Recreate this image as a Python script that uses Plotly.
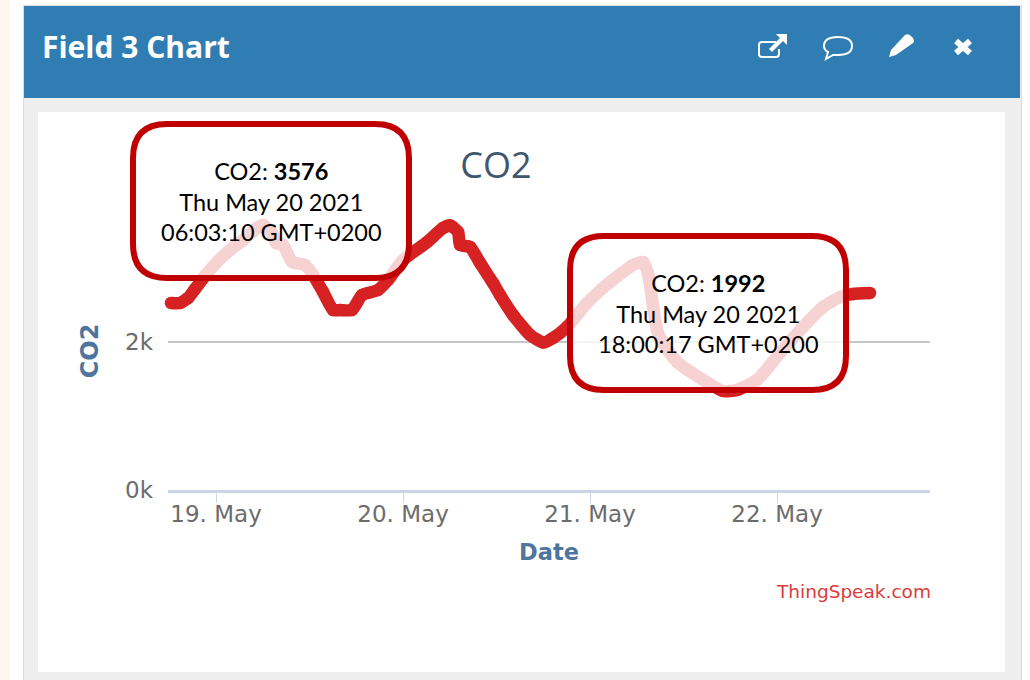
import re
import plotly.graph_objects as go

# ---- data ----
times = [
    "2021-05-18 18:13", "2021-05-18 19:23", "2021-05-18 20:25", "2021-05-18 21:18", "2021-05-18 22:35",
    "2021-05-19 00:08", "2021-05-19 01:48", "2021-05-19 03:28", "2021-05-19 05:16", "2021-05-19 06:02",
    "2021-05-19 07:11", "2021-05-19 07:42", "2021-05-19 08:36", "2021-05-19 09:45", "2021-05-19 11:25",
    "2021-05-19 12:27", "2021-05-19 13:44", "2021-05-19 15:01", "2021-05-19 15:55", "2021-05-19 17:27",
    "2021-05-19 18:44", "2021-05-19 20:47", "2021-05-19 22:04", "2021-05-20 00:00", "2021-05-20 03:05",
    "2021-05-20 05:08", "2021-05-20 06:03", "2021-05-20 07:04", "2021-05-20 07:19", "2021-05-20 08:36",
    "2021-05-20 09:53", "2021-05-20 11:33", "2021-05-20 12:27", "2021-05-20 14:07", "2021-05-20 16:18",
    "2021-05-20 18:00", "2021-05-20 19:15", "2021-05-20 21:03", "2021-05-20 23:37", "2021-05-21 02:34",
    "2021-05-21 05:31", "2021-05-21 06:48", "2021-05-21 07:26", "2021-05-21 07:58", "2021-05-21 08:36",
    "2021-05-21 09:22", "2021-05-21 11:10", "2021-05-21 14:07", "2021-05-21 17:04", "2021-05-21 18:52",
    "2021-05-21 21:26", "2021-05-22 00:23", "2021-05-22 03:20", "2021-05-22 05:54", "2021-05-22 08:05",
    "2021-05-22 09:45", "2021-05-22 11:56",
]
co2 = [
    2527, 2527, 2595, 2716, 2892,
    3081, 3243, 3378, 3541, 3581,
    3473, 3338, 3311, 3081, 3041,
    2905, 2676, 2432, 2432, 2432,
    2635, 2703, 2838, 3108, 3351,
    3541, 3576, 3486, 3311, 3284,
    3068, 2797, 2635, 2365, 2095,
    1992, 2054, 2203, 2527, 2811,
    3041, 3081, 2932, 2568, 2162,
    1986, 1730, 1514, 1338, 1351,
    1486, 1851, 2203, 2473, 2608,
    2649, 2662,
]
x_tick_vals = ["2021-05-19", "2021-05-20", "2021-05-21", "2021-05-22"]
x_tick_text = ["19. May", "20. May", "21. May", "22. May"]
y_tick_vals = [0, 2000]
y_tick_text = ["0k", "2k"]
x_range = ["2021-05-18 17:50", "2021-05-22 19:38"]
y_range = [0, 3757]
callout_1 = "CO2: <b>3576</b><br>Thu May 20 2021<br>06:03:10 GMT+0200"
callout_2 = "CO2: <b>1992</b><br>Thu May 20 2021<br>18:00:17 GMT+0200"

# ---- page geometry (pixels) ----
W, H = 1030, 680
L, R, T, B = 168, 930, 212, 490
PW, PH = R - L, B - T
RED = "#d62222"
DARKRED = "#c00000"
BLUE = "#2f7db2"


def fx(p):
    return (p - L) / PW


def fy(p):
    return (B - p) / PH


def path(s):
    toks = re.findall(r"[A-Za-z]|-?\d+\.?\d*", s)
    out, is_x = [], True
    for t in toks:
        if t.isalpha():
            out.append(t)
        else:
            v = float(t)
            out.append(f"{fx(v) if is_x else fy(v):.5f}")
            is_x = not is_x
    return " ".join(out)


def rect(x0, y0, x1, y1, color, layer="below"):
    return dict(type="rect", xref="paper", yref="paper", x0=fx(x0), x1=fx(x1), y0=fy(y1), y1=fy(y0),
                fillcolor=color, line=dict(width=0), layer=layer)


def shp(s, fill=None, lw=0, color="white", layer="above"):
    d = dict(type="path", xref="paper", yref="paper", path=path(s), layer=layer,
             line=dict(width=lw, color=color))
    if fill:
        d["fillcolor"] = fill
    return d


def rounded(x0, y0, x1, y1, r):
    return (f"M {x0+r} {y0} L {x1-r} {y0} Q {x1} {y0} {x1} {y0+r} L {x1} {y1-r} Q {x1} {y1} {x1-r} {y1} "
            f"L {x0+r} {y1} Q {x0} {y1} {x0} {y1-r} L {x0} {y0+r} Q {x0} {y0} {x0+r} {y0} Z")


shapes = [
    rect(0, 0, 10, H, "#fff8f1"),
    rect(23, 5, 1022, H, "#dcdcdc"),
    rect(24, 6, 1021, H, "#eeeeee"),
    rect(38, 112, 1005, 672, "#ffffff"),
    rect(24, 6, 1020, 98, BLUE),
    # header icons
    shp("M 776 42 L 762 42 Q 759 42 759 45 L 759 54 Q 759 57 762 57 L 776 57 Q 779 57 779 54 L 779 49", lw=2),
    shp("M 776 34 L 787 34 L 787 45 L 783 41 L 772 52 L 769 49 L 780 38 Z", fill="white"),
    shp("M 824 46 Q 824 37 838 37 Q 852 37 852 46 Q 852 55 838 55 Q 835 55 833 55 L 826 59 L 828 52 Q 824 50 824 46 Z", lw=2),
    shp("M 905 35 Q 908 33 911 36 L 913 38 Q 915 41 913 43 L 896 55 L 889 57 L 891 50 Z", fill="white"),
    shp("M 956 41 L 970 53", lw=6),
    shp("M 970 41 L 956 53", lw=6),
    # callouts
    shp(rounded(133, 124, 409, 278, 34), fill="rgba(255,255,255,0.8)", lw=6, color=DARKRED),
    shp(rounded(570, 236, 846, 390, 34), fill="rgba(255,255,255,0.8)", lw=6, color=DARKRED),
]


def note(px, py, text, size, color, family, **kw):
    return dict(xref="paper", yref="paper", x=fx(px), y=fy(py), text=text, showarrow=False,
                font=dict(size=size, color=color, family=family), xanchor="center", yanchor="middle", **kw)


annotations = [
    note(136, 47, "<b>Field 3 Chart</b>", 30, "#ffffff", "Open Sans"),
    note(271, 201, callout_1, 23.5, "#000000", "Lato", align="center"),
    note(708, 313, callout_2, 23.5, "#000000", "Lato", align="center"),
    note(853, 591, "ThingSpeak.com", 18.5, "#dc3a3a", "DejaVu Sans"),
]

fig = go.Figure(go.Scatter(
    x=times, y=co2, mode="lines+markers", name="CO2",
    line=dict(color=RED, width=12.5, shape="spline", smoothing=0.5),
    marker=dict(color=RED, size=12.5), cliponaxis=False,
))
fig.update_layout(
    width=W, height=H, margin=dict(l=L, r=W - R, t=T, b=H - B, autoexpand=False),
    paper_bgcolor="#ffffff", plot_bgcolor="rgba(0,0,0,0)", showlegend=False,
    title=dict(text="CO2", x=496 / W, xanchor="center", y=1 - 165 / H, yanchor="middle",
               font=dict(size=36, color="#3e576f", family="Open Sans")),
    xaxis=dict(type="date", range=x_range, tickmode="array", tickvals=x_tick_vals, ticktext=x_tick_text,
               showgrid=False, showline=True, linecolor="#c9d5e4", linewidth=3, ticks="outside", ticklen=10,
               tickcolor="#ccd6eb", tickwidth=1, zeroline=False, ticklabelstandoff=-9,
               tickfont=dict(size=23, color="#6c6c6c", family="DejaVu Sans"),
               title=dict(text="<b>Date</b>", standoff=19,
                          font=dict(size=22.5, color="#4d759e", family="DejaVu Sans"))),
    yaxis=dict(range=y_range, tickmode="array", tickvals=y_tick_vals, ticktext=y_tick_text,
               showgrid=True, gridcolor="#c6c6c6", gridwidth=1.5, zeroline=False, showline=False, ticks="",
               ticklabelstandoff=14,
               tickfont=dict(size=23, color="#6c6c6c", family="DejaVu Sans"),
               title=dict(text="<b>CO2</b>", standoff=19,
                          font=dict(size=24, color="#4d759e", family="DejaVu Sans"))),
    shapes=shapes, annotations=annotations,
)
fig.write_html("out.html", config=dict(displayModeBar=False),
               post_script="document.body.style.margin='0';document.body.style.overflow='hidden';")
